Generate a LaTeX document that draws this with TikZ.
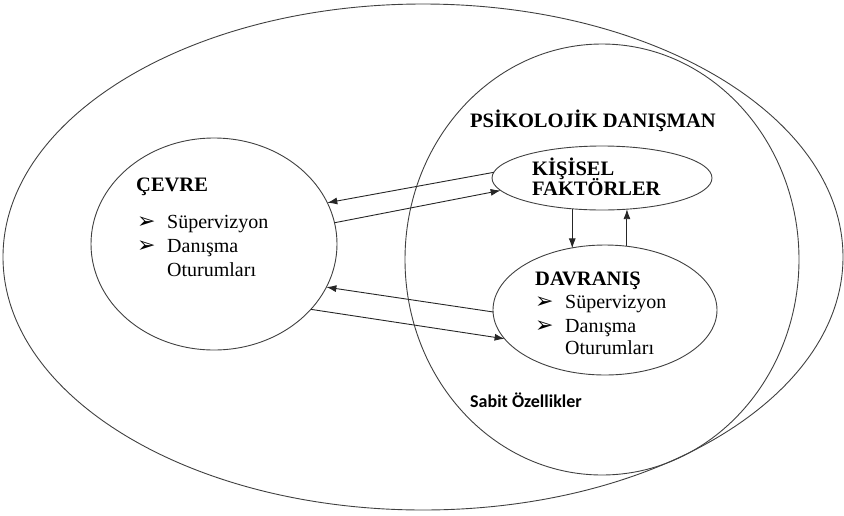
\documentclass[tikz,border=0pt]{standalone}
\usepackage{fontspec}
\setmainfont{Liberation Serif}
\newfontfamily\calibri{Carlito}
\newfontfamily\dejavu{DejaVu Sans}
\usetikzlibrary{shapes.geometric,arrows.meta}
\newcommand{\bul}{\makebox[30pt][l]{\raisebox{-0.5pt}{\dejavu\fontsize{22}{22}\selectfont ➢}}}
\tikzset{
    oval/.style={ellipse, draw=black!75, line width=0.9pt, inner sep=0, outer sep=0},
    head/.style={anchor=base west, inner sep=0, font=\bfseries\fontsize{20.5}{20}\selectfont},
    item/.style={anchor=base west, inner sep=0, font=\fontsize{20}{24}\selectfont}
}

\begin{document}
\begin{tikzpicture}[x=1pt,y=-1pt,
    arr/.style={draw=black!85, line width=0.9pt, -{Latex[length=10pt,width=7pt]}}]
    \useasboundingbox (0,0) rectangle (844,515);
    % ellipses
    \node[oval, minimum width=840, minimum height=506] (dis) at (423,257) {};
    \node[oval, minimum width=394, minimum height=431] (danisman) at (602,259.5) {};
    \node[oval, minimum width=246, minimum height=212] (cevre) at (214,244) {};
    \node[oval, minimum width=220, minimum height=64] (kisisel) at (602,178) {};
    \node[oval, minimum width=224, minimum height=130] (davranis) at (605,310) {};

    % texts
    \node[head] (psk) at (470,127) {PSİKOLOJİK DANIŞMAN};
    \node[head] (cevreT) at (136,191) {ÇEVRE};
    \node[item] (cevre1) at (137,228) {\bul Süpervizyon};
    \node[item] (cevre2) at (137,252) {\bul Danışma};
    \node[item] (cevre3) at (167,276) {Oturumları};
    \node[head] (kisiselT) at (532,175) {KİŞİSEL};
    \node[head] (faktorT) at (532,195) {FAKTÖRLER};
    \node[head] (davranisT) at (535,285) {DAVRANIŞ};
    \node[item] (davranis1) at (535,308) {\bul Süpervizyon};
    \node[item] (davranis2) at (535,332) {\bul Danışma};
    \node[item] (davranis3) at (565,354) {Oturumları};
    \node[anchor=base west, inner sep=0, font=\calibri\bfseries\fontsize{18}{18}\selectfont] (sabit) at (470,407) {Sabit Özellikler};

    % arrows
    \draw[arr] (kisisel.177) -- (cevre.20);
    \draw[arr] (cevre.10) -- (kisisel.-173);
    \draw[arr] (davranis.181) -- (cevre.-21);
    \draw[arr] (cevre.-34) -- (davranis.196);
    \draw[arr] (kisisel.226) -- (kisisel.226 |- davranis.120);
    \draw[arr] (davranis.71) -- (davranis.71 |- kisisel.-51);
\end{tikzpicture}
\end{document}
